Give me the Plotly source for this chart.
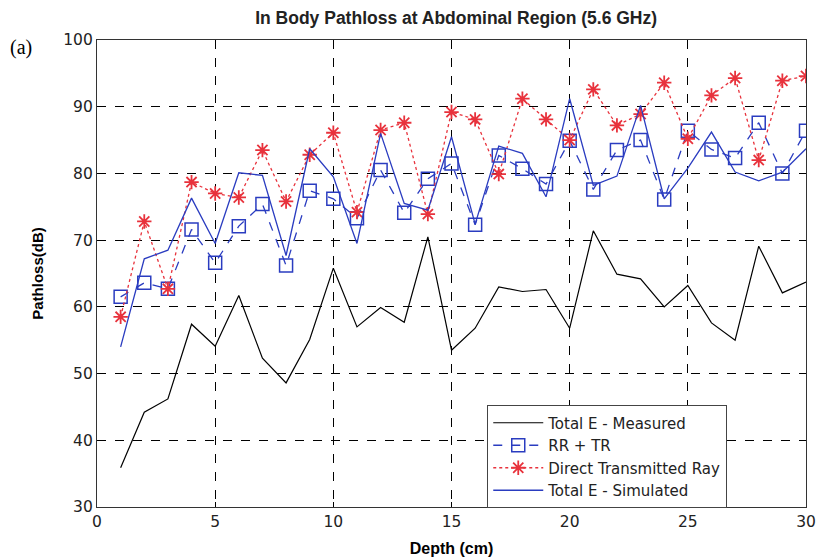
import plotly.graph_objects as go

depth = list(range(1, 31))
measured = [35.9, 44.2, 46.2, 57.4, 54.1, 61.7, 52.3, 48.6, 55.1, 65.8,
            57.0, 59.9, 57.7, 70.5, 53.5, 56.8, 63.0, 62.3, 62.6, 56.8,
            71.4, 64.9, 64.2, 60.0, 63.2, 57.6, 55.0, 69.1, 62.1, 63.7]
rr_tr = [61.5, 63.6, 62.7, 71.6, 66.6, 72.1, 75.4, 66.2, 77.4, 76.2,
         73.3, 80.5, 74.1, 79.2, 81.5, 72.3, 82.7, 80.7, 78.4, 84.9,
         77.6, 83.5, 85.0, 76.1, 86.4, 83.6, 82.3, 87.6, 80.0, 86.4]
direct = [58.5, 72.8, 62.7, 78.7, 77.0, 76.4, 83.5, 75.8, 82.8, 86.1,
          74.2, 86.5, 87.6, 73.9, 89.2, 88.1, 79.9, 91.2, 88.1, 85.0,
          92.6, 87.2, 88.9, 93.6, 85.2, 91.7, 94.3, 82.0, 93.9, 94.6]
simulated = [54.0, 67.2, 68.5, 76.3, 69.5, 80.1, 79.7, 67.7, 83.7, 79.5,
             69.5, 86.0, 75.5, 74.5, 85.5, 72.4, 84.1, 83.0, 76.5, 91.2,
             78.2, 79.6, 90.2, 76.2, 80.8, 86.2, 80.2, 78.9, 80.2, 83.7]

blue = "#2a3cc0"
red = "#e8323c"
font_family = "Liberation Sans, Arial"
wide_family = "DejaVu Sans"

fig = go.Figure()
fig.add_trace(go.Scatter(x=depth, y=measured, mode="lines", name="Total E - Measured",
                         line=dict(color="black", width=1.2)))
fig.add_trace(go.Scatter(x=depth, y=rr_tr, mode="lines+markers", name="RR + TR",
                         line=dict(color=blue, width=1.3, dash="dash"),
                         marker=dict(symbol="square-open", size=13, color=blue,
                                     line=dict(width=1.5, color=blue))))
fig.add_trace(go.Scatter(x=depth, y=direct, mode="lines+markers", name="Direct Transmitted Ray",
                         line=dict(color=red, width=1.3, dash="dot"),
                         marker=dict(symbol="asterisk-open", size=12, color=red,
                                     line=dict(width=1.8, color=red))))
fig.add_trace(go.Scatter(x=depth, y=simulated, mode="lines", name="Total E - Simulated",
                         line=dict(color=blue, width=1.3)))

axis_common = dict(showline=True, linecolor="#333", linewidth=1.3, mirror="ticks",
                   ticks="inside", ticklen=5, tickcolor="black",
                   showgrid=True, gridcolor="black", gridwidth=1, griddash="dash",
                   zeroline=False, automargin=False,
                   tickfont=dict(family=wide_family, size=15.5, color="#222"))

fig.update_xaxes(range=[0, 30], dtick=5,
                 title=dict(text="<b>Depth (cm)</b>",
                            font=dict(family=font_family, size=16, color="black")),
                 **axis_common)
fig.update_yaxes(range=[30, 100], dtick=10,
                 title=dict(text="<b>Pathloss(dB)</b>",
                            font=dict(family=font_family, size=15, color="black")),
                 **axis_common)

fig.update_layout(
    width=816, height=557,
    margin=dict(l=97, r=10, t=40, b=50),
    paper_bgcolor="white", plot_bgcolor="white",
    title=dict(text="<b>In Body Pathloss at Abdominal Region (5.6 GHz)</b>",
               x=0.559, xanchor="center", y=0.968, yanchor="middle",
               font=dict(family=font_family, size=17.5, color="#222")),
    legend=dict(x=0.550, y=0.218, xanchor="left", yanchor="top",
                bgcolor="white", bordercolor="#444", borderwidth=1.3,
                font=dict(family=wide_family, size=15, color="#222"),
                tracegroupgap=0, itemwidth=50),
    showlegend=True,
)
fig.add_annotation(text="(a)", xref="paper", yref="paper", x=-0.125, y=0.983,
                   xanchor="left", yanchor="middle", showarrow=False,
                   font=dict(family="Liberation Serif, Times New Roman", size=20, color="black"))

fig.write_html("out.html")
